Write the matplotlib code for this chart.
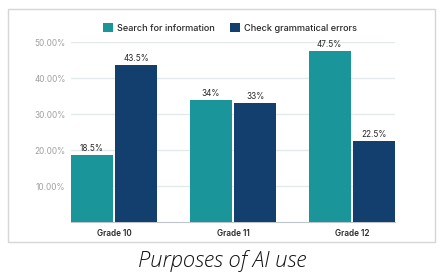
import matplotlib
matplotlib.use("Agg")
import matplotlib.pyplot as plt
import numpy as np
from matplotlib.patches import Rectangle

categories = ["Grade 10", "Grade 11", "Grade 12"]
search_info = [18.5, 34, 47.5]
check_grammar = [43.5, 33, 22.5]
search_labels = ["18.5%", "34%", "47.5%"]
grammar_labels = ["43.5%", "33%", "22.5%"]
yticks = [10, 20, 30, 40, 50]
ytick_labels = ["10.00%", "20.00%", "30.00%", "40.00%", "50.00%"]
series_names = ["Search for information", "Check grammatical errors"]
title = "Purposes of AI use"

teal = "#1A9599"
navy = "#123F6E"
FONT = "Inter"

W, H = 447, 276
fig = plt.figure(figsize=(W / 100, H / 100), dpi=100)
fig.patch.set_facecolor("white")

# outer frame
fig.patches.append(Rectangle((8 / W, 1 - 242 / H), 427 / W, 233 / H,
                             transform=fig.transFigure, fill=False,
                             edgecolor="#D6D6D6", linewidth=1.0))

ax = fig.add_axes([71 / W, 1 - 222 / H, 324 / W, 180 / H])
x = np.arange(len(categories))
w = 0.352
off = 0.187
b1 = ax.bar(x - off, search_info, w, color=teal, label=series_names[0], zorder=3)
b2 = ax.bar(x + off, check_grammar, w, color=navy, label=series_names[1], zorder=3)

ax.set_xlim(-0.363, 2.363)
ax.set_ylim(0, 50)
ax.set_yticks(yticks)
ax.set_yticklabels(ytick_labels, fontsize=5.9, color="#A0A0A0", family=FONT)
ax.set_xticks(x)
ax.set_xticklabels(categories, fontsize=5.9, color="#2A2A2A",
                   fontweight="semibold", family=FONT)
ax.tick_params(axis="both", length=0)
ax.tick_params(axis="y", pad=4)
ax.tick_params(axis="x", pad=5)
ax.grid(axis="y", color="#E3EAEC", linewidth=1.0, zorder=0)
for s in ["top", "right", "left"]:
    ax.spines[s].set_visible(False)
ax.spines["bottom"].set_color("#BFC5C8")
ax.spines["bottom"].set_linewidth(0.8)

for bars, labels in [(b1, search_labels), (b2, grammar_labels)]:
    for r, lab in zip(bars, labels):
        ax.annotate(lab, (r.get_x() + r.get_width() / 2, r.get_height()),
                    xytext=(0, 1.5), textcoords="offset points",
                    ha="center", va="bottom", fontsize=5.9, color="#2A2A2A",
                    family=FONT)

leg = fig.legend(handles=[b1, b2], labels=series_names, loc="center",
                 bbox_to_anchor=(230 / W, 1 - 28 / H), ncol=2, frameon=False,
                 prop={"family": FONT, "size": 6.6, "weight": "medium"},
                 handlelength=1.1, handleheight=1.1,
                 handletextpad=0.5, columnspacing=1.6)
for t in leg.get_texts():
    t.set_color("#2A2A2A")

fig.text(222 / W, 1 - 261 / H, title, ha="center", va="center",
         fontsize=15.8, style="italic", fontweight="light", family="Open Sans",
         color="#111111")

fig.savefig("out.png", dpi=100)
